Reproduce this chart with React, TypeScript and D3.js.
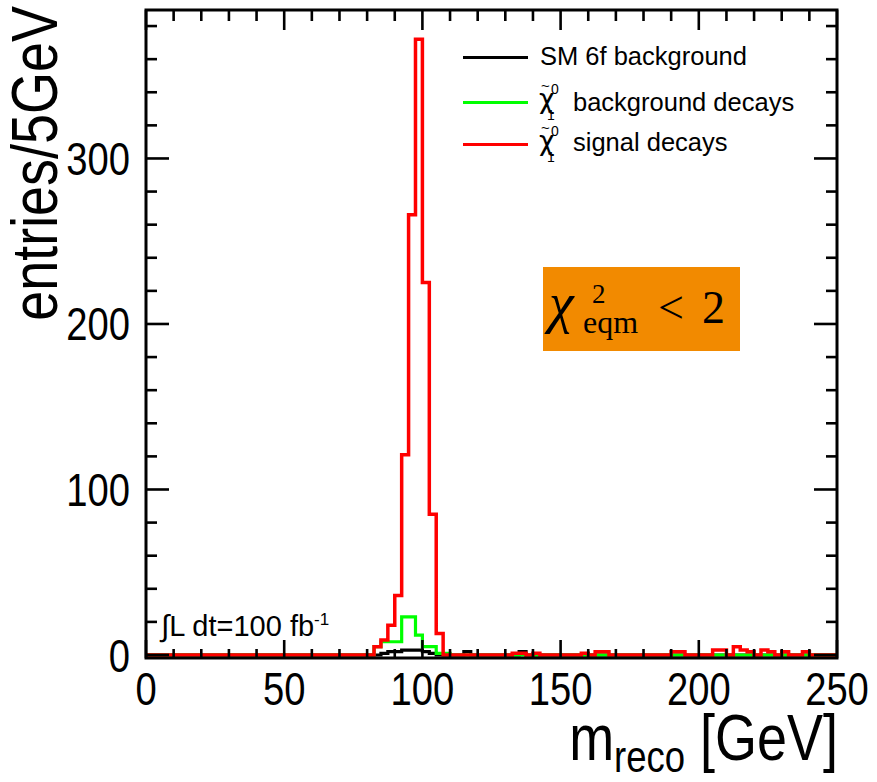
import React from 'react';
import * as d3 from 'd3';

// Histogram binning (GeV)
const BIN_WIDTH = 2.5;
const X_DOMAIN: [number, number] = [0, 250];
const Y_DOMAIN: [number, number] = [0, 389.7];

const xTickLabels = [0, 50, 100, 150, 200, 250];
const yTickLabels = [0, 100, 200, 300];

// Non-empty bins: lower bin edge (GeV) and entries per bin
const smBins = [85, 87.5, 90, 92.5, 95, 97.5, 100, 102.5, 115, 135];
const smCounts = [1, 2, 2, 3, 3, 3, 2, 1, 2, 2];

const bkgBins = [82.5, 85, 87.5, 90, 92.5, 95, 97.5, 100, 102.5, 105, 107.5];
const bkgCounts = [5, 8, 8, 8, 23, 23, 12, 5, 5, 1, 1];

const sigBins = [
  82.5, 85, 87.5, 90, 92.5, 95, 97.5, 100, 102.5, 105, 132.5, 135, 140, 157.5, 162.5, 165,
  190, 192.5, 205, 207.5, 212.5, 215, 217.5, 222.5, 225, 230, 237.5,
];
const sigCounts = [
  5, 9, 18, 36, 121, 266, 372, 225, 85, 13, 1, 1, 1, 1, 2, 2,
  2, 2, 3, 3, 5, 3, 2, 3, 2, 2, 2,
];

const legendLabels = ['SM 6f background', 'background decays', 'signal decays'];

const W = 877;
const H = 782;
const FRAME = { left: 146, right: 837, top: 10, bottom: 658 };

const x = d3.scaleLinear().domain(X_DOMAIN).range([FRAME.left, FRAME.right]);
const y = d3.scaleLinear().domain(Y_DOMAIN).range([655, FRAME.top]);

function stepPath(bins: number[], counts: number[]): string {
  const lookup = new Map<number, number>();
  bins.forEach((b, i) => lookup.set(Math.round(b * 10), counts[i]));
  const nBins = Math.round((X_DOMAIN[1] - X_DOMAIN[0]) / BIN_WIDTH);
  const path = d3.path();
  path.moveTo(x(X_DOMAIN[0]), y(0));
  for (let k = 0; k < nBins; k++) {
    const lo = X_DOMAIN[0] + k * BIN_WIDTH;
    const v = lookup.get(Math.round(lo * 10)) ?? 0;
    path.lineTo(x(lo), y(v));
    path.lineTo(x(lo + BIN_WIDTH), y(v));
  }
  return path.toString();
}

const AXIS_FONT = "'Liberation Sans', Arial, sans-serif";
const GREEK_FONT = "'DejaVu Sans', sans-serif";
const SERIF = "'Liberation Serif', 'Times New Roman', serif";
const SQUEEZE = 0.83;

// neutralino symbol with tilde, superscript 0 and subscript 1
function Chi({ x0, base }: { x0: number; base: number }) {
  return (
    <text x={x0} y={base} fontFamily={GREEK_FONT} fontSize={27} fill="#000">
      χ
      <tspan x={x0 + 2} y={base - 17} fontFamily={AXIS_FONT} fontSize={15}>~</tspan>
      <tspan x={x0 + 12} y={base - 14} fontFamily={AXIS_FONT} fontSize={14}>0</tspan>
      <tspan x={x0 + 8} y={base + 12} fontFamily={AXIS_FONT} fontSize={14}>1</tspan>
    </text>
  );
}

export default function App() {
  const xMinor = d3.range(0, 251, 10);
  const yMinor = d3.range(0, 381, 20);

  return (
    <svg
      width={W}
      height={H}
      viewBox={`0 0 ${W} ${H}`}
      style={{ position: 'absolute', left: 0, top: 0, background: '#fff' }}
    >
      <rect x={0} y={0} width={W} height={H} fill="#fff" />

      {/* histograms */}
      <path d={stepPath(smBins, smCounts)} fill="none" stroke="#000" strokeWidth={3.2} />
      <path d={stepPath(bkgBins, bkgCounts)} fill="none" stroke="#00ff00" strokeWidth={3.2} />
      <path d={stepPath(sigBins, sigCounts)} fill="none" stroke="#ff0000" strokeWidth={3.5} />

      {/* frame */}
      <rect
        x={FRAME.left}
        y={FRAME.top}
        width={FRAME.right - FRAME.left}
        height={FRAME.bottom - FRAME.top}
        fill="none"
        stroke="#000"
        strokeWidth={3}
      />

      {/* x ticks (bottom and top) */}
      {xMinor.map((v) => {
        const len = v % 50 === 0 ? 18 : 9;
        return (
          <g key={`xt${v}`} stroke="#000" strokeWidth={2.6}>
            <line x1={x(v)} x2={x(v)} y1={FRAME.bottom} y2={FRAME.bottom - len} />
            <line x1={x(v)} x2={x(v)} y1={FRAME.top} y2={FRAME.top + len + 2} />
          </g>
        );
      })}

      {/* y ticks (left and right) */}
      {yMinor.map((v) => {
        const len = v % 100 === 0 ? 23 : 11;
        return (
          <g key={`yt${v}`} stroke="#000" strokeWidth={2.6}>
            <line x1={FRAME.left} x2={FRAME.left + len} y1={y(v)} y2={y(v)} />
            <line x1={FRAME.right} x2={FRAME.right - len} y1={y(v)} y2={y(v)} />
          </g>
        );
      })}

      {/* x tick labels */}
      {xTickLabels.map((v) => (
        <text
          key={`xl${v}`}
          transform={`translate(${x(v)},705) scale(${SQUEEZE},1)`}
          textAnchor="middle"
          fontFamily={AXIS_FONT}
          fontSize={46}
          fill="#000"
        >
          {v}
        </text>
      ))}

      {/* y tick labels */}
      {yTickLabels.map((v) => (
        <text
          key={`yl${v}`}
          transform={`translate(130,${y(v) + 16.5}) scale(${SQUEEZE},1)`}
          textAnchor="end"
          fontFamily={AXIS_FONT}
          fontSize={46}
          fill="#000"
        >
          {v}
        </text>
      ))}

      {/* axis titles */}
      <text
        transform={`translate(838,760) scale(${SQUEEZE},1)`}
        textAnchor="end"
        fontFamily={AXIS_FONT}
        fontSize={65}
        fill="#000"
        style={{ whiteSpace: 'pre' }}
      >
        m
        <tspan fontSize={44} dy={12}>reco</tspan>
        <tspan dy={-12}> [GeV]</tspan>
      </text>
      <text
        transform={`translate(57,6) rotate(-90) scale(${SQUEEZE},1)`}
        textAnchor="end"
        fontFamily={AXIS_FONT}
        fontSize={65}
        fill="#000"
      >
        entries/5GeV
      </text>

      {/* legend */}
      <g fontFamily={AXIS_FONT} fill="#000">
        <line x1={463} x2={528} y1={57.5} y2={57.5} stroke="#000" strokeWidth={3} />
        <text x={540} y={65} fontSize={25.5}>{legendLabels[0]}</text>

        <line x1={463} x2={528} y1={102.5} y2={102.5} stroke="#00ff00" strokeWidth={3} />
        <Chi x0={539} base={108} />
        <text x={573} y={111} fontSize={25.5}>{legendLabels[1]}</text>

        <line x1={463} x2={528} y1={144.5} y2={144.5} stroke="#ff0000" strokeWidth={3} />
        <Chi x0={539} base={150} />
        <text x={573} y={151} fontSize={25.5}>{legendLabels[2]}</text>
      </g>

      {/* selection cut box */}
      <rect x={543} y={267} width={197} height={84} fill="#f28a00" />
      <g fontFamily={SERIF} fill="#000">
        <text x={549} y={322} fontSize={56} fontStyle="italic">χ</text>
        <text x={592} y={303} fontSize={27}>2</text>
        <text x={583} y={333} fontSize={32}>eqm</text>
        <text x={658} y={323} fontSize={46}>&lt;</text>
        <text x={702} y={323} fontSize={46}>2</text>
      </g>

      {/* integrated luminosity */}
      <text x={161} y={636} fontFamily={AXIS_FONT} fontSize={29} fill="#000">
        <tspan fontSize={30}>∫</tspan>
        <tspan>L dt=100 fb</tspan>
        <tspan fontSize={17} dy={-11}>-1</tspan>
      </text>
    </svg>
  );
}
